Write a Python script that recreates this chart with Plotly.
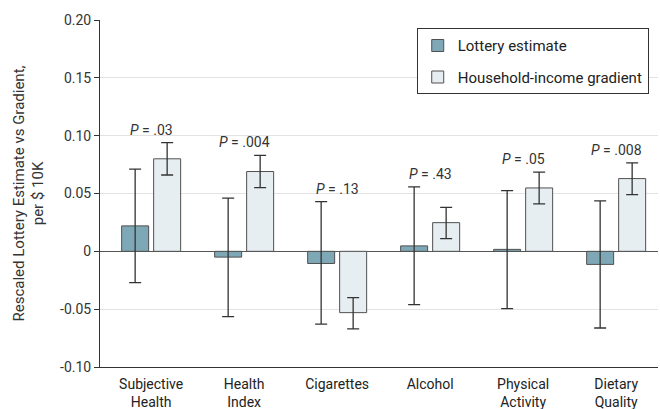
import plotly.graph_objects as go

categories = ["Subjective<br>Health", "Health<br>Index", "Cigarettes", "Alcohol", "Physical<br>Activity", "Dietary<br>Quality"]
lottery = [0.022, -0.005, -0.0105, 0.0047, 0.0017, -0.0113]
lottery_hi = [0.071, 0.046, 0.043, 0.0557, 0.0525, 0.0436]
lottery_lo = [-0.027, -0.0565, -0.063, -0.046, -0.0496, -0.0663]
gradient = [0.080, 0.069, -0.053, 0.0248, 0.0548, 0.0629]
gradient_hi = [0.094, 0.083, -0.040, 0.038, 0.0684, 0.0765]
gradient_lo = [0.066, 0.055, -0.067, 0.011, 0.041, 0.049]
p_labels = ["<i>P</i> = .03", "<i>P</i> = .004", "<i>P</i> = .13", "<i>P</i> = .43", "<i>P</i> = .05", "<i>P</i> = .008"]
y_ticks = [-0.10, -0.05, 0, 0.05, 0.10, 0.15, 0.20]
y_ticklabels = ["-0.10", "-0.05", "0", "0.05", "0.10", "0.15", "0.20"]

FONT = "Roboto, Liberation Sans, sans-serif"

fig = go.Figure()
fig.add_trace(go.Bar(
    x=categories, y=lottery, name="Lottery estimate", legendgroup="a",
    marker=dict(color="#7FA8B7", line=dict(color="#505050", width=1)),
    error_y=dict(type="data", symmetric=False,
                 array=[h - v for h, v in zip(lottery_hi, lottery)],
                 arrayminus=[v - l for l, v in zip(lottery_lo, lottery)],
                 color="#333333", thickness=1.3, width=6),
))
fig.add_trace(go.Bar(
    x=categories, y=gradient, name="Household-income gradient", legendgroup="b",
    marker=dict(color="#E6EEF2", line=dict(color="#505050", width=1)),
    error_y=dict(type="data", symmetric=False,
                 array=[h - v for h, v in zip(gradient_hi, gradient)],
                 arrayminus=[v - l for l, v in zip(gradient_lo, gradient)],
                 color="#333333", thickness=1.3, width=6),
))

for c, lab, a, b in zip(categories, p_labels, lottery_hi, gradient_hi):
    fig.add_annotation(x=c, y=max(a, b), text=lab, showarrow=False,
                       yanchor="middle", yshift=13,
                       font=dict(size=14, color="#333333", family=FONT))

fig.update_layout(
    width=660, height=409,
    margin=dict(l=100, r=2, t=20, b=42),
    paper_bgcolor="white", plot_bgcolor="white",
    barmode="group", bargap=0.312, bargroupgap=0.156,
    font=dict(family=FONT, size=14, color="#333333"),
    legend=dict(x=0.5676, y=0.9762, xanchor="left", yanchor="top",
                bordercolor="#333333", borderwidth=1, bgcolor="white",
                font=dict(size=15, color="#222222"), tracegroupgap=9,
                traceorder="grouped"),
    showlegend=True,
)
fig.update_xaxes(showgrid=False, showline=True, linecolor="#333333", linewidth=1,
                 ticks="", range=[-0.55, 5.45], tickfont=dict(size=14, color="#222222"),
                 ticklabelstandoff=4, automargin=False, zeroline=False, mirror=False)
fig.update_yaxes(range=[-0.10, 0.20], tickvals=y_ticks, ticktext=y_ticklabels,
                 showgrid=True, gridcolor="#E3E3E3", gridwidth=1,
                 zeroline=True, zerolinecolor="#555555", zerolinewidth=1,
                 showline=True, linecolor="#333333", linewidth=1,
                 ticks="outside", ticklen=5, tickcolor="#333333",
                 tickfont=dict(size=14, color="#333333"),
                 title=dict(text="Rescaled Lottery Estimate vs Gradient,<br>per $ 10K",
                            font=dict(size=15, color="#333333"), standoff=12))

fig.write_html("out.html", config={"displayModeBar": False},
               post_script="document.body.style.margin='0';")
